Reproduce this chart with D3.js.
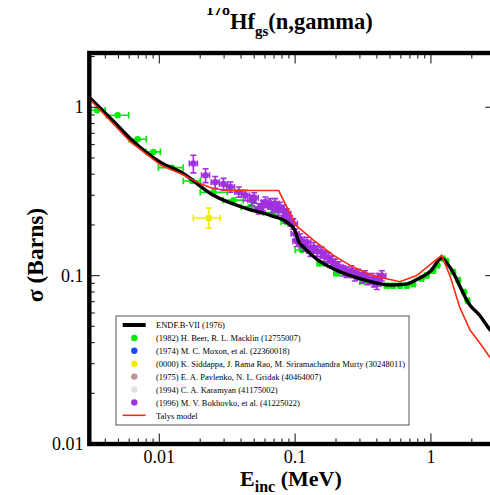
<!DOCTYPE html>
<html><head><meta charset="utf-8">
<script src="https://cdn.jsdelivr.net/npm/d3@7"></script>
<style>body{margin:0;background:#fff}svg{display:block}</style>
</head><body><div id="chart"></div>
<script>
// ---- data ----
const endfE = [0.003,0.0045,0.00613,0.0103,0.0144,0.025,0.044,0.0657,0.0868,0.1,0.106,0.115,0.145,0.2,0.3,0.5,0.65,0.79,1.0,1.2,1.38,1.94,2.29,2.71,3.0];
const endfS = [1.16,0.84,0.651,0.469,0.413,0.30,0.25,0.228,0.208,0.185,0.16,0.148,0.125,0.108,0.096,0.088,0.089,0.095,0.107,0.127,0.112,0.0667,0.058,0.048,0.044];

const talysE = [0.003,0.00613,0.0103,0.0144,0.02,0.025,0.0334,0.0756,0.102,0.137,0.192,0.269,0.376,0.59,0.785,1.2,1.38,1.63,1.94,2.3,2.7,3.0];
const talysS = [1.14,0.622,0.452,0.403,0.352,0.328,0.32,0.32,0.198,0.162,0.132,0.112,0.1,0.092,0.1,0.132,0.1,0.065,0.0475,0.0397,0.033,0.03];

// Beer & Macklin: E, sigma, Elo, Ehi
const beerE  = [0.00348,0.00494,0.00692,0.00904,0.0124,0.0174,0.0251,0.0352,0.0467,0.0692,0.0868,0.112,0.153,0.203,0.327,0.472,0.526,0.592,0.665,0.742,0.854,0.93,1.04,1.12,1.23,1.3,1.46,1.59,1.76,1.86];
const beerS  = [0.96,0.897,0.646,0.543,0.438,0.365,0.313,0.281,0.256,0.237,0.208,0.142,0.118,0.103,0.0921,0.0872,0.087,0.087,0.087,0.089,0.096,0.1,0.107,0.115,0.126,0.122,0.105,0.094,0.08,0.071];
const beerLo = [0.00315,0.00406,0.00599,0.00798,0.00984,0.015,0.02,0.0296,0.0401,0.0582,0.0789,0.1,0.145,0.193,0.3,0.455,0.51,0.575,0.645,0.72,0.83,0.9,1.01,1.09,1.2,1.27,1.42,1.55,1.72,1.82];
const beerHi = [0.00399,0.00594,0.00802,0.01017,0.015,0.02,0.0316,0.0415,0.0535,0.0816,0.0951,0.1225,0.162,0.214,0.356,0.49,0.545,0.61,0.685,0.765,0.88,0.96,1.07,1.15,1.26,1.33,1.5,1.63,1.8,1.9];

// Bokhovko et al.
const bokE = [0.0178,0.0219,0.0258,0.0297,0.0334,0.0385,0.043,0.048,0.05,0.054,0.058,0.0604,0.0657,0.068,0.0713,0.075,0.0776,0.082,0.085,0.0868,0.092,0.097,0.1,0.103,0.109,0.115,0.122,0.13,0.137,0.145,0.157,0.165,0.176,0.185,0.197,0.21,0.227,0.24,0.26,0.275,0.292,0.31,0.327,0.345,0.367,0.38,0.4,0.41,0.435];
const bokS = [0.463,0.394,0.359,0.35,0.336,0.314,0.30,0.28,0.29,0.25,0.26,0.274,0.268,0.255,0.268,0.245,0.255,0.244,0.22,0.233,0.212,0.203,0.177,0.16,0.165,0.15,0.158,0.14,0.147,0.14,0.138,0.13,0.128,0.122,0.117,0.113,0.107,0.105,0.107,0.1,0.102,0.097,0.1,0.095,0.096,0.092,0.089,0.096,0.1];
const bokErr = [0.12,0.095,0.08,0.08,0.07,0.07,0.07,0.07,0.07,0.07,0.07,0.07,0.07,0.07,0.07,0.07,0.07,0.07,0.07,0.07,0.07,0.07,0.07,0.07,0.07,0.07,0.07,0.07,0.07,0.07,0.07,0.07,0.07,0.07,0.07,0.07,0.07,0.07,0.07,0.07,0.07,0.07,0.07,0.07,0.07,0.07,0.07,0.07,0.07];

// Siddappa et al.
const sidE = [0.0231], sidS = [0.22], sidElo = [0.0178], sidEhi = [0.0281], sidSlo = [0.191], sidShi = [0.252];

const legendLabels = ["ENDF.B-VII (1976)","(1982) H. Beer, R. L. Macklin (12755007)","(1974) M. C. Moxon, et al. (22360018)","(0000) K. Siddappa, J. Rama Rao, M. Sriramachandra Murty (30248011)","(1975) E. A. Pavlenko, N. L. Gridak (40464007)","(1994) C. A. Karamyan (41175002)","(1996) M. V. Bokhovko, et al. (41225022)","Talys model"];
const legendColors = ["#000000","#00ee00","#1a4cff","#eeee00","#c09393","#e2e2e2","#a030e0","#ff2a10"];
const legendKinds = ["thick","dot","dot","dot","dot","dot","dot","line"];
const xTickVals = [0.01,0.1,1], xTickLabels = ["0.01","0.1","1"];
const yTickVals = [0.01,0.1,1], yTickLabels = ["0.01","0.1","1"];

// ---- drawing ----
const W = 490, H = 495;
const FONT = "Liberation Serif";
const svg = d3.select("#chart").append("svg").attr("width",W).attr("height",H).attr("font-family",FONT);
svg.append("rect").attr("width",W).attr("height",H).attr("fill","#fff");

const x = d3.scaleLog().domain([0.00305,3]).range([89.3,495.7]);
const y = d3.scaleLog().domain([0.01,2.1]).range([444,53]);
const [x0,x1] = x.range(), [y0,y1] = y.range();

const GREEN = legendColors[1], PURPLE = legendColors[6], YELLOW = legendColors[3], RED = legendColors[7];

svg.append("clipPath").attr("id","plot").append("rect").attr("x",x0).attr("y",y1).attr("width",x1-x0).attr("height",y0-y1);
const g = svg.append("g").attr("clip-path","url(#plot)");

function errX(sel, E, S, lo, hi, col, cap){
  E.forEach((e,i)=>{
    const yy = y(S[i]);
    sel.append("line").attr("x1",x(lo[i])).attr("x2",x(hi[i])).attr("y1",yy).attr("y2",yy).attr("stroke",col).attr("stroke-width",1.6);
    [lo[i],hi[i]].forEach(v=>sel.append("line").attr("x1",x(v)).attr("x2",x(v)).attr("y1",yy-cap).attr("y2",yy+cap).attr("stroke",col).attr("stroke-width",1.6));
  });
}
function errY(sel, E, S, lo, hi, col, cap){
  E.forEach((e,i)=>{
    const xx = x(e);
    sel.append("line").attr("x1",xx).attr("x2",xx).attr("y1",y(lo[i])).attr("y2",y(hi[i])).attr("stroke",col).attr("stroke-width",1.6);
    [lo[i],hi[i]].forEach(v=>sel.append("line").attr("x1",xx-cap).attr("x2",xx+cap).attr("y1",y(v)).attr("y2",y(v)).attr("stroke",col).attr("stroke-width",1.6));
  });
}

// Beer data
errX(g, beerE, beerS, beerLo, beerHi, GREEN, 3.3);
g.selectAll(".beer").data(beerE).join("circle").attr("cx",d=>x(d)).attr("cy",(d,i)=>y(beerS[i])).attr("r",3.2).attr("fill",GREEN);

// Bokhovko
const bokLo = bokS.map((s,i)=>s*(1-bokErr[i])), bokHi = bokS.map((s,i)=>s*(1+bokErr[i]));
const bokElo = bokE.map(e=>e/1.07), bokEhi = bokE.map(e=>e*1.07);
errY(g, bokE, bokS, bokLo, bokHi, PURPLE, 3);
errX(g, bokE, bokS, bokElo, bokEhi, PURPLE, 3);
g.selectAll(".bok").data(bokE).join("circle").attr("cx",d=>x(d)).attr("cy",(d,i)=>y(bokS[i])).attr("r",3.2).attr("fill",PURPLE);

// Siddappa
errX(g, sidE, sidS, sidElo, sidEhi, YELLOW, 3.3);
errY(g, sidE, sidS, sidSlo, sidShi, YELLOW, 3.3);
g.selectAll(".sid").data(sidE).join("circle").attr("cx",d=>x(d)).attr("cy",(d,i)=>y(sidS[i])).attr("r",3.5).attr("fill",YELLOW);

// ENDF
const line = d3.line().x(d=>x(d[0])).y(d=>y(d[1])).curve(d3.curveMonotoneX);
g.append("path").attr("d",line(endfE.map((e,i)=>[e,endfS[i]]))).attr("fill","none").attr("stroke","#000").attr("stroke-width",3.4).attr("stroke-linejoin","round");
// Talys
const lineL = d3.line().x(d=>x(d[0])).y(d=>y(d[1]));
g.append("path").attr("d",lineL(talysE.map((e,i)=>[e,talysS[i]]))).attr("fill","none").attr("stroke",RED).attr("stroke-width",1.6);

// ticks
const tk = svg.append("g").attr("stroke","#222").attr("stroke-width",1.1);
const isMajor = v => Math.abs(Math.log10(v)-Math.round(Math.log10(v)))<1e-6;
x.ticks().forEach(v=>{
  const L = isMajor(v)?10.5:5.5, xx = x(v);
  tk.append("line").attr("x1",xx).attr("x2",xx).attr("y1",y0).attr("y2",y0-L);
  tk.append("line").attr("x1",xx).attr("x2",xx).attr("y1",y1).attr("y2",y1+L);
});
y.ticks().forEach(v=>{
  const L = isMajor(v)?10.5:5.5, yy = y(v);
  tk.append("line").attr("x1",x0).attr("x2",x0+L).attr("y1",yy).attr("y2",yy);
  tk.append("line").attr("x1",x1).attr("x2",x1-L).attr("y1",yy).attr("y2",yy);
});
// frame
svg.append("rect").attr("x",x0).attr("y",y1).attr("width",x1-x0).attr("height",y0-y1).attr("fill","none").attr("stroke","#000").attr("stroke-width",4.4);

// tick labels
xTickVals.forEach((v,i)=>svg.append("text").attr("x",x(v)).attr("y",462.5).attr("text-anchor","middle").attr("font-size",18).text(xTickLabels[i]));
yTickVals.forEach((v,i)=>svg.append("text").attr("x",83.5).attr("y",y(v)+6).attr("text-anchor","end").attr("font-size",18).text(yTickLabels[i]));

// axis titles
const xt = svg.append("text").attr("font-weight","bold").attr("font-size",22).attr("x",240).attr("y",486);
xt.append("tspan").text("E");
xt.append("tspan").attr("font-size",16).attr("dy",6).text("inc");
xt.append("tspan").attr("dy",-6).text(" (MeV)");
svg.append("text").attr("transform","translate(43,255) rotate(-90)").attr("text-anchor","middle").attr("font-weight","bold").attr("font-size",23.5).text("σ (Barns)");

// title
svg.append("clipPath").attr("id","tclip").append("rect").attr("x",0).attr("y",8).attr("width",W).attr("height",60);
const tt = svg.append("text").attr("clip-path","url(#tclip)").attr("font-weight","bold").attr("font-size",22.5).attr("x",206).attr("y",29);
tt.append("tspan").attr("font-size",16).attr("dy",-14).text("178");
tt.append("tspan").attr("dy",14).text("Hf");
tt.append("tspan").attr("font-size",15).attr("dy",7).text("gs");
tt.append("tspan").attr("dy",-7).text("(n,gamma)");

// legend
const lg = svg.append("g");
lg.append("rect").attr("x",116).attr("y",316).attr("width",293).attr("height",109).attr("fill","#fff").attr("stroke","#555").attr("stroke-width",1);
legendLabels.forEach((lab,i)=>{
  const yy = 325 + i*12.9;
  if(legendKinds[i]==="thick") lg.append("line").attr("x1",122.7).attr("x2",145.7).attr("y1",yy).attr("y2",yy).attr("stroke","#000").attr("stroke-width",4);
  else if(legendKinds[i]==="line") lg.append("line").attr("x1",122.7).attr("x2",145.7).attr("y1",yy).attr("y2",yy).attr("stroke",legendColors[i]).attr("stroke-width",1.6);
  else lg.append("circle").attr("cx",134.3).attr("cy",yy).attr("r",3.2).attr("fill",legendColors[i]);
  lg.append("text").attr("x",156).attr("y",yy+3.2).attr("font-size",8.5).text(lab);
});
</script></body></html>
